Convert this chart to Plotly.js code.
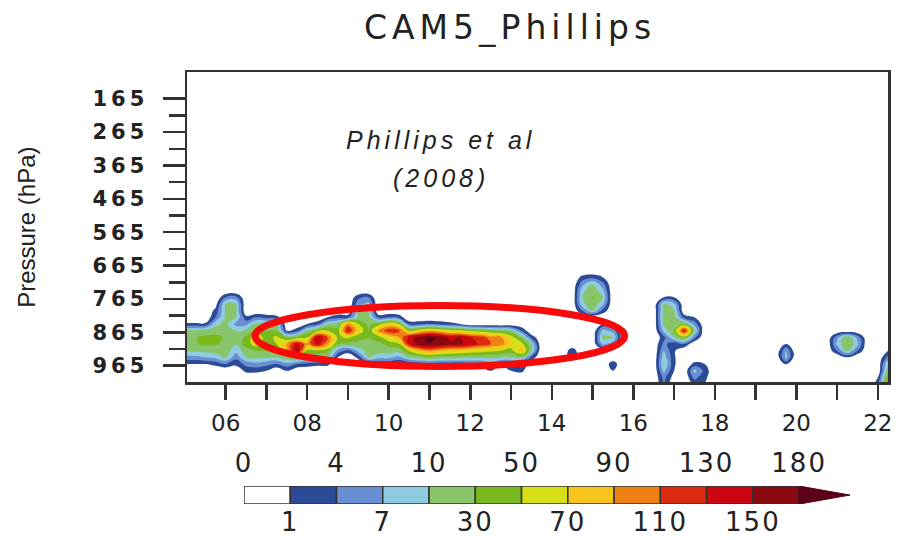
<!DOCTYPE html>
<html><head><meta charset="utf-8">
<script src="https://cdn.plot.ly/plotly-3.0.1.min.js"></script>
<style>
html,body{margin:0;padding:0;background:#fff;}
#chart{width:898px;height:540px;}
.gtitle{letter-spacing:5px;}
.ytick text{letter-spacing:4px;}
.x2tick text,.x3tick text{letter-spacing:2px;}
.annotation-text{letter-spacing:4px;}
</style></head><body><div id="chart"></div>
<script>
// time axis (grid columns) and pressure levels (grid rows)
const hours = [5.00,5.25,5.50,5.75,6.00,6.25,6.50,6.75,7.00,7.25,7.50,7.75,8.00,8.25,8.50,8.75,9.00,9.25,9.50,9.75,
  10.00,10.25,10.50,10.75,11.00,11.25,11.50,11.75,12.00,12.25,12.50,12.75,13.00,13.25,13.50,13.75,14.00,14.25,14.50,14.75,
  15.00,15.25,15.50,15.75,16.00,16.25,16.50,16.75,17.00,17.25,17.50,17.75,18.00,18.25,18.50,18.75,19.00,19.25,19.50,19.75,
  20.00,20.25,20.50,20.75,21.00,21.25,21.50,21.75,22.00,22.25];
const pressure = [680,700,720,740,760,780,800,820,840,860,880,900,920,940,960,980,1000,1020];

// values per time column, one value per pressure level (680 ... 1020 hPa)
const rateColumns = [
  [0,0,0,0,0,0,0,0,1.5,14,22,22,14,6,1,0,0,0],
  [0,0,0,0,0,0,0,0,1.5,15,28,28,15,6,1,0,0,0],
  [0,0,0,0,0,0,0,0,1.5,18,35,33,18,7,1,0,0,0],
  [0,0,0,0,0,0.5,2,4,9,22,35,32,20,8,2,0,0,0],
  [0,0,0,0,4,12,14,15,17,22,28,25,20,12,4,0,0,0],
  [0,0,0,0,5,10,12,10,6,10,15,12,8,5,2,0,0,0],
  [0,0,0,0,0,0,0,2,6,15,35,40,20,10,5,2,0,0],
  [0,0,0,0,0,0,0,4,15,35,65,60,30,15,6,2,0,0],
  [0,0,0,0,0,0,0,3,15,30,40,40,30,12,5,1,0,0],
  [0,0,0,0,0,0,0,2,12,30,55,50,25,10,4,0,0,0],
  [0,0,0,0,0,0,0,0,0,1,25,90,70,25,6,1,0,0],
  [0,0,0,0,0,0,0,0,0,3,35,140,160,35,4,0,0,0],
  [0,0,0,0,0,0,0,0,1,12,50,95,45,15,3,0,0,0],
  [0,0,0,0,0,0,0,0,3,40,155,140,45,15,2,0,0,0],
  [0,0,0,0,0,0,0,1,10,50,110,90,35,12,2,0,0,0],
  [0,0,0,0,0,0,0,3,20,40,45,30,6,1,0,0,0,0],
  [0,0,0,0,0,0,0,3,100,135,55,25,3,0,0,0,0,0],
  [0,0,0,0,3,6,10,15,50,70,35,25,8,2,0,0,0,0],
  [0,0,0,0,4,8,12,18,25,30,30,25,20,10,2,0,0,0],
  [0,0,0,0,0,0,0,3,40,90,40,25,20,8,1,0,0,0],
  [0,0,0,0,0,0,0,4,70,125,70,35,20,8,1,0,0,0],
  [0,0,0,0,0,0,0,3,50,115,90,45,20,6,1,0,0,0],
  [0,0,0,0,0,0,0,0,3,50,140,135,50,12,1,0,0,0],
  [0,0,0,0,0,0,0,0,3,70,165,170,80,20,2,0,0,0],
  [0,0,0,0,0,0,0,0,4,85,190,180,95,25,3,0,0,0],
  [0,0,0,0,0,0,0,0,3,75,170,170,85,20,2,0,0,0],
  [0,0,0,0,0,0,0,0,2,60,145,150,75,20,2,0,0,0],
  [0,0,0,0,0,0,0,0,1,55,150,155,70,18,2,0,0,0],
  [0,0,0,0,0,0,0,0,0,45,130,140,65,15,3,0,0,0],
  [0,0,0,0,0,0,0,0,0,40,120,125,60,15,3,0,0,0],
  [0,0,0,0,0,0,0,0,0,30,100,110,55,15,5,1,0,0],
  [0,0,0,0,0,0,0,0,0,25,95,100,50,12,2,0,0,0],
  [0,0,0,0,0,0,0,0,0,15,60,70,40,10,3,1,0,0],
  [0,0,0,0,0,0,0,0,0,4,25,60,85,15,6,2,0,0],
  [0,0,0,0,0,0,0,0,0,0,3,10,12,3,0,0,0,0],
  [0,0,0,0,0,0,0,0,0,0,0,0,0,0,0,0,0,0],
  [0,0,0,0,0,0,0,0,0,0,0,0,0,0,0,0,0,0],
  [0,0,0,0,0,0,0,0,0,0,0,0,0,0,0,0,0,0],
  [0,0,0,0,0,0,0,0,0,0,0,0,3,3,0,0,0,0],
  [0,2,6,9,10,9,4,0,0,0,0,0,0,0,0,0,0,0],
  [0,3,12,22,32,25,10,0,0,0,0,0,0,0,0,0,0,0],
  [0,1,5,8,10,8,3,0,1,8,15,8,0,0,0,0,0,0],
  [0,0,0,0,0,0,0,0,1,6,12,5,0,0,3,1,0,0],
  [0,0,0,0,0,0,0,0,0,0,0,0,0,0,0,0,0,0],
  [0,0,0,0,0,0,0,0,0,0,0,0,0,0,0,0,0,0],
  [0,0,0,0,0,0,0,0,0,0,0,0,0,0,0,0,0,0],
  [0,0,0,0,0,0,0,0,0,0,0,0,0,0,0,0,0,0],
  [0,0,0,0,1,12,18,20,15,8,3,5,7,9,12,8,5,4],
  [0,0,0,0,1,8,15,20,25,30,10,2,1.5,1.5,1.5,1,0.5,0],
  [0,0,0,0,0,0,0,3,30,135,40,4,0,0,0,0,0,0],
  [0,0,0,0,0,0,0,1,6,12,5,0,0,0,2,8,5,2],
  [0,0,0,0,0,0,0,0,0,0,0,0,0,0,1,3,2,1],
  [0,0,0,0,0,0,0,0,0,0,0,0,0,0,0,0,0,0],
  [0,0,0,0,0,0,0,0,0,0,0,0,0,0,0,0,0,0],
  [0,0,0,0,0,0,0,0,0,0,0,0,0,0,0,0,0,0],
  [0,0,0,0,0,0,0,0,0,0,0,0,0,0,0,0,0,0],
  [0,0,0,0,0,0,0,0,0,0,0,0,0,0,0,0,0,0],
  [0,0,0,0,0,0,0,0,0,0,0,0,0,0,0,0,0,0],
  [0,0,0,0,0,0,0,0,0,0,0,0,0,0,0,0,0,0],
  [0,0,0,0,0,0,0,0,0,0,0,1,7,8,1.5,0,0,0],
  [0,0,0,0,0,0,0,0,0,0,0,0,0,0,0,0,0,0],
  [0,0,0,0,0,0,0,0,0,0,0,0,0,0,0,0,0,0],
  [0,0,0,0,0,0,0,0,0,0,0,0,0,0,0,0,0,0],
  [0,0,0,0,0,0,0,0,0,0,0,0,0,0,0,0,0,0],
  [0,0,0,0,0,0,0,0,0,0,6,8,4,0,0,0,0,0],
  [0,0,0,0,0,0,0,0,0,0,25,30,12,1,0,0,0,0],
  [0,0,0,0,0,0,0,0,0,0,6,8,4,0,0,0,0,0],
  [0,0,0,0,0,0,0,0,0,0,0,0,0,0,0,0,0,0],
  [0,0,0,0,0,0,0,0,0,0,0,0,0,0,0,0,1,3],
  [0,0,0,0,0,0,0,0,0,0,0,0,1,5,12,25,45,60]
];

// contour levels and colours
const levelBounds = [0,1,4,7,10,30,50,70,90,110,130,150,180,210];
const levelColors = ['#ffffff','#2b4a98','#6a8ed2','#8ecbe0','#88c46a','#7ab91e','#d7e016',
  '#f6c41a','#ee8014','#dc2a0e','#cc0610','#8a0810','#5a0018'];
const cbTopLabels = ['0','4','10','50','90','130','180'];
const cbBottomLabels = ['1','7','30','70','110','150'];
const xTickVals = [6,8,10,12,14,16,18,20,22];
const xTickLabels = ['06','08','10','12','14','16','18','20','22'];
const yTickVals = [165,265,365,465,565,665,765,865,965];
const yTickLabels = ['165','265','365','465','565','665','765','865','965'];
const yMinorVals = [215,315,415,515,615,715,815,915];

// map a value to its level index (0..13) so that uniform contours reproduce the uneven levels
function toLevelIndex(v){
  if (v <= levelBounds[0]) return 0;
  for (let i = 0; i < levelBounds.length - 1; i++) {
    if (v < levelBounds[i+1]) return i + (v - levelBounds[i]) / (levelBounds[i+1] - levelBounds[i]);
  }
  return levelBounds.length - 1;
}
const z = pressure.map((p, r) => rateColumns.map(col => toLevelIndex(col[r])));
const nCells = levelColors.length - 1;
const colorscale = levelColors.map((c, k) => [k / nCells, c]);

const contour = {
  type: 'contour', x: hours, y: pressure, z: z,
  autocontour: false,
  contours: {start: 1, end: nCells, size: 1, coloring: 'fill', showlines: false},
  colorscale: colorscale, showscale: false,
  line: {width: 0, smoothing: 1.3},
  hoverinfo: 'skip'
};

const cellIdx = levelColors.slice(0, nCells).map((c, k) => k + 0.5);
const cbBars = {
  type: 'bar', x: cellIdx, y: cellIdx.map(() => 1), base: 0, width: 1,
  xaxis: 'x2', yaxis: 'y2',
  marker: {color: levelColors.slice(0, nCells), line: {color: '#333', width: 1.5}},
  hoverinfo: 'skip', showlegend: false
};
const cbArrow = {
  type: 'scatter', mode: 'lines', xaxis: 'x2', yaxis: 'y2',
  x: [nCells, nCells + 1.1, nCells, nCells], y: [0, 0.5, 1, 0],
  fill: 'toself', fillcolor: levelColors[nCells],
  line: {color: levelColors[nCells], width: 1},
  hoverinfo: 'skip', showlegend: false
};

const axisLine = {showline: true, mirror: true, linecolor: '#333', linewidth: 2.5, showgrid: false, zeroline: false};
const layout = {
  width: 898, height: 540,
  margin: {l: 187, r: 10, t: 72, b: 10},
  paper_bgcolor: '#fff', plot_bgcolor: '#fff',
  showlegend: false,
  title: {text: 'CAM5_Phillips', x: 0.4608, xref: 'paper', xanchor: 'center',
          y: 0.95, yref: 'container', yanchor: 'middle',
          font: {family: 'DejaVu Sans', size: 33, color: '#222'}},
  xaxis: Object.assign({}, axisLine, {
    domain: [0, 1], range: [5.05, 22.25], anchor: 'y',
    tickmode: 'array', tickvals: xTickVals, ticktext: xTickLabels,
    ticks: 'outside', ticklen: 15, tickwidth: 2.5, tickcolor: '#333',
    minor: {tickmode: 'linear', tick0: 6, dtick: 1, ticks: 'outside', ticklen: 15, tickwidth: 2.5, tickcolor: '#333'},
    tickfont: {family: 'DejaVu Sans', size: 23, color: '#222'}, ticklabelstandoff: 4
  }),
  yaxis: Object.assign({}, axisLine, {
    domain: [0.3225, 1], range: [1014.7, 84.9], anchor: 'x',
    tickmode: 'array', tickvals: yTickVals, ticktext: yTickLabels,
    ticks: 'outside', ticklen: 22, tickwidth: 2.5, tickcolor: '#333',
    minor: {tickmode: 'array', tickvals: yMinorVals, ticks: 'outside', ticklen: 16, tickwidth: 2.5, tickcolor: '#333'},
    tickfont: {family: 'DejaVu Sans', size: 21, color: '#222', weight: 'bold'}, ticklabelstandoff: 10,
    title: {text: 'Pressure (hPa)', standoff: 50, font: {family: 'Liberation Sans', size: 24, color: '#222'}}
  }),
  xaxis2: {domain: [0.08131, 0.94579], range: [0, 13.1], anchor: 'y2',
    tickmode: 'array', tickvals: [1,3,5,7,9,11], ticktext: cbBottomLabels, ticks: '',
    showline: false, showgrid: false, zeroline: false, fixedrange: true,
    tickfont: {family: 'DejaVu Sans', size: 26, color: '#222'}, ticklabelstandoff: 0},
  xaxis3: {overlaying: 'x2', side: 'top', anchor: 'y2', range: [0, 13.1],
    tickmode: 'array', tickvals: [0,2,4,6,8,10,12], ticktext: cbTopLabels, ticks: '',
    showline: false, showgrid: false, zeroline: false, fixedrange: true,
    tickfont: {family: 'DejaVu Sans', size: 26, color: '#222'}, ticklabelstandoff: 8},
  yaxis2: {domain: [0.0566, 0.0959], range: [0, 1], anchor: 'x2', visible: false, fixedrange: true},
  shapes: [{type: 'circle', xref: 'x', yref: 'y', x0: 6.72, x1: 15.79, y0: 784.6, y1: 967.4,
            line: {color: '#f80a0a', width: 7}}],
  annotations: [
    {text: 'Phillips et al', xref: 'paper', yref: 'paper', x: 0.3623, y: 0.8515,
     xanchor: 'center', yanchor: 'middle', showarrow: false,
     font: {family: 'Liberation Sans', size: 25, color: '#222', style: 'italic'}},
    {text: '(2008)', xref: 'paper', yref: 'paper', x: 0.3623, y: 0.7686,
     xanchor: 'center', yanchor: 'middle', showarrow: false,
     font: {family: 'Liberation Sans', size: 25, color: '#222', style: 'italic'}}
  ]
};

// invisible trace so the top colorbar axis is drawn
const cbTopAxisTrace = {type: 'scatter', mode: 'markers', x: [0], y: [0], xaxis: 'x3', yaxis: 'y2',
  marker: {opacity: 0}, hoverinfo: 'skip', showlegend: false};

Plotly.newPlot('chart', [contour, cbBars, cbArrow, cbTopAxisTrace], layout, {staticPlot: true, displayModeBar: false});
</script></body></html>
